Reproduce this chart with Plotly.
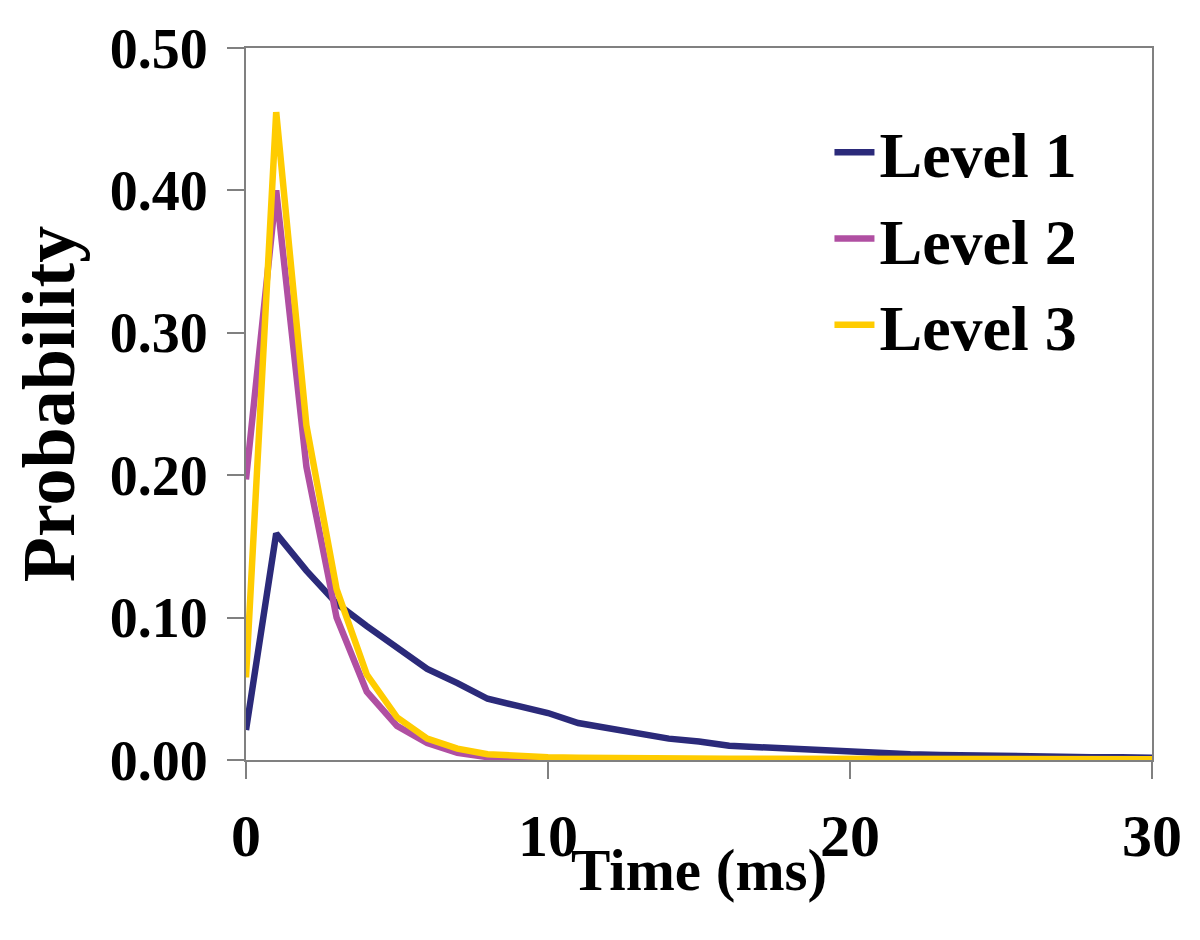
import plotly.graph_objects as go

time_ms = list(range(31))
level1 = [0.021, 0.159, 0.133, 0.110, 0.094, 0.079, 0.064, 0.054, 0.043, 0.038,
          0.033, 0.026, 0.022, 0.018, 0.015, 0.013, 0.010, 0.009, 0.008, 0.007,
          0.005, 0.0045, 0.004, 0.0035, 0.003, 0.003, 0.0025, 0.0025, 0.002, 0.002, 0.0015]
level2 = [0.197, 0.400, 0.206, 0.100, 0.048, 0.024, 0.012, 0.005, 0.002, 0.001,
          0.0005, 0.0003, 0.0002, 0.0002, 0.0001, 0.0001, 0.0001, 0.0001, 0.0001, 0.0001,
          0.0, 0.0, 0.0, 0.0, 0.0, 0.0, 0.0, 0.0, 0.0, 0.0, 0.0]
level3 = [0.058, 0.455, 0.235, 0.120, 0.060, 0.030, 0.015, 0.008, 0.004, 0.0025,
          0.002, 0.0015, 0.0012, 0.001, 0.001, 0.001, 0.0009, 0.0009, 0.0008, 0.0008,
          0.0007, 0.0007, 0.0006, 0.0006, 0.0006, 0.0005, 0.0005, 0.0005, 0.0005, 0.0005, 0.0005]

series = [("Level 1", level1, "#2B2A7A"),
          ("Level 2", level2, "#B04FA2"),
          ("Level 3", level3, "#FFCC00")]

x_title = "Time (ms)"
y_title = "Probability"

FONT = "Liberation Serif, Times New Roman, serif"

fig = go.Figure()
for name, vals, color in series:
    fig.add_trace(go.Scatter(x=time_ms, y=vals, name=name, mode="lines",
                             line=dict(color=color, width=6.5)))

fig.update_layout(
    width=1200, height=940,
    paper_bgcolor="white", plot_bgcolor="white",
    margin=dict(l=238, r=56, t=40, b=188, autoexpand=False),
    font=dict(family=FONT, color="black"),
    showlegend=True,
    legend=dict(x=0.644, y=0.921, xanchor="left", yanchor="top",
                font=dict(family=FONT, size=64, color="black", weight="bold"),
                bgcolor="rgba(0,0,0,0)", itemwidth=40, tracegroupgap=0),
)

fig.add_annotation(text=x_title, xref="paper", yref="paper", x=0.5, y=0,
                   xanchor="center", yanchor="middle", yshift=-110, showarrow=False,
                   font=dict(family=FONT, size=59, color="black", weight="bold"))

fig.update_xaxes(
    range=[0, 30], tickvals=[0, 10, 20, 30], ticktext=["0", "10", "20", "30"],
    showgrid=False, zeroline=False, automargin=False,
    showline=True, linecolor="#808080", linewidth=2, mirror=True,
    ticks="outside", ticklen=17, tickcolor="#808080", tickwidth=2,
    ticklabelstandoff=5,
    tickfont=dict(family=FONT, size=60, color="black", weight="bold"),
)
fig.update_yaxes(
    range=[0, 0.5], tickvals=[0, 0.1, 0.2, 0.3, 0.4, 0.5],
    ticktext=["0.00", "0.10", "0.20", "0.30", "0.40", "0.50"],
    showgrid=False, zeroline=False, automargin=False,
    showline=True, linecolor="#808080", linewidth=2, mirror=True,
    ticks="outside", ticklen=17, tickcolor="#808080", tickwidth=2,
    ticklabelstandoff=8,
    tickfont=dict(family=FONT, size=56, color="black", weight="bold"),
    title=dict(text=y_title, standoff=29,
               font=dict(family=FONT, size=74, color="black", weight="bold")),
)

fig.write_html("out.html")
